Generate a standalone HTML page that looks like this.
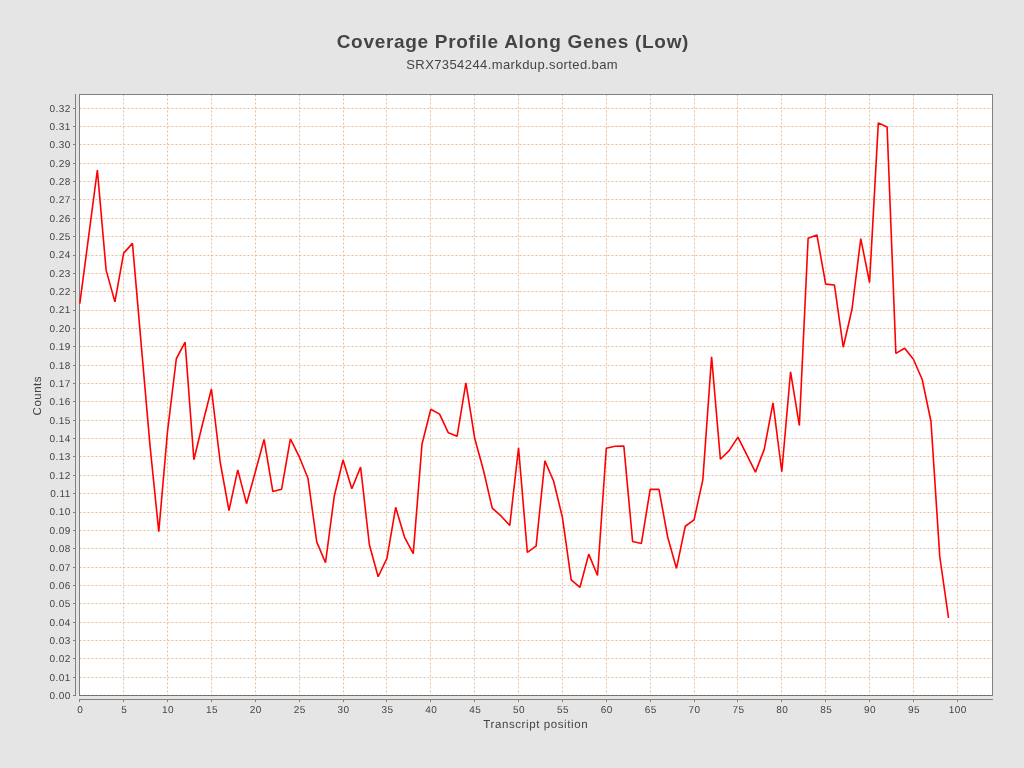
<!DOCTYPE html>
<html><head><meta charset="utf-8"><style>
html,body{margin:0;padding:0;background:#e5e5e5;width:1024px;height:768px;overflow:hidden;font-family:"Liberation Sans",sans-serif;}
svg{position:absolute;left:0;top:0;display:block;will-change:transform}
</style></head><body>
<svg width="1024" height="768" viewBox="0 0 1024 768">
<rect x="79" y="94" width="914" height="602" fill="#fff"/>
<path d="M79.5 695.5H992M79.5 677.5H992M79.5 658.5H992M79.5 640.5H992M79.5 622.5H992M79.5 603.5H992M79.5 585.5H992M79.5 567.5H992M79.5 548.5H992M79.5 530.5H992M79.5 512.5H992M79.5 493.5H992M79.5 475.5H992M79.5 456.5H992M79.5 438.5H992M79.5 420.5H992M79.5 401.5H992M79.5 383.5H992M79.5 365.5H992M79.5 346.5H992M79.5 328.5H992M79.5 310.5H992M79.5 291.5H992M79.5 273.5H992M79.5 255.5H992M79.5 236.5H992M79.5 218.5H992M79.5 199.5H992M79.5 181.5H992M79.5 163.5H992M79.5 144.5H992M79.5 126.5H992M79.5 108.5H992M79.5 94.5V695M123.5 94.5V695M167.5 94.5V695M211.5 94.5V695M255.5 94.5V695M299.5 94.5V695M343.5 94.5V695M386.5 94.5V695M430.5 94.5V695M474.5 94.5V695M518.5 94.5V695M562.5 94.5V695M606.5 94.5V695M650.5 94.5V695M694.5 94.5V695M737.5 94.5V695M781.5 94.5V695M825.5 94.5V695M869.5 94.5V695M913.5 94.5V695M957.5 94.5V695" stroke="#e9be9a" stroke-width="1" stroke-dasharray="2 2" fill="none"/>
<rect x="79.5" y="94.5" width="913" height="601" fill="none" stroke="#808080" stroke-width="1"/>
<path d="M79.5 695.5H992" stroke="#7c6250" stroke-width="1" stroke-dasharray="2 2" fill="none"/>
<path d="M75.5 94V696M79 699.5H993M73 695.5H75M73 677.5H75M73 658.5H75M73 640.5H75M73 622.5H75M73 603.5H75M73 585.5H75M73 567.5H75M73 548.5H75M73 530.5H75M73 512.5H75M73 493.5H75M73 475.5H75M73 456.5H75M73 438.5H75M73 420.5H75M73 401.5H75M73 383.5H75M73 365.5H75M73 346.5H75M73 328.5H75M73 310.5H75M73 291.5H75M73 273.5H75M73 255.5H75M73 236.5H75M73 218.5H75M73 199.5H75M73 181.5H75M73 163.5H75M73 144.5H75M73 126.5H75M73 108.5H75M79.5 700V702M123.5 700V702M167.5 700V702M211.5 700V702M255.5 700V702M299.5 700V702M343.5 700V702M386.5 700V702M430.5 700V702M474.5 700V702M518.5 700V702M562.5 700V702M606.5 700V702M650.5 700V702M694.5 700V702M737.5 700V702M781.5 700V702M825.5 700V702M869.5 700V702M913.5 700V702M957.5 700V702" stroke="#808080" stroke-width="1" fill="none" shape-rendering="crispEdges"/>
<polyline points="79.80,303.72 88.58,236.95 97.35,169.99 106.12,270.15 114.90,301.89 123.67,253.09 132.45,243.37 141.22,344.63 150.00,445.52 158.78,531.79 167.55,431.03 176.32,358.75 185.10,342.24 193.88,459.81 202.65,423.51 211.43,389.02 220.20,462.25 228.98,510.54 237.75,469.92 246.52,503.67 255.30,471.94 264.07,439.47 272.85,491.57 281.62,489.18 290.40,438.92 299.18,456.53 307.95,478.21 316.73,541.83 325.50,562.74 334.28,496.05 343.05,460.01 351.83,488.81 360.60,467.17 369.38,544.76 378.15,576.76 386.93,558.34 395.70,507.34 404.48,537.06 413.25,553.57 422.03,444.05 430.80,409.20 439.58,414.15 448.35,432.86 457.12,436.17 465.90,382.97 474.68,438.18 483.45,470.25 492.23,508.07 501.00,515.96 509.78,525.42 518.55,447.72 527.33,552.47 536.10,546.05 544.88,460.93 553.65,481.29 562.42,517.43 571.20,579.98 579.98,587.32 588.75,554.12 597.52,575.48 606.30,448.27 615.07,446.26 623.85,446.07 632.62,541.46 641.40,543.48 650.17,489.36 658.95,489.36 667.73,537.24 676.50,568.43 685.27,526.24 694.05,519.81 702.82,479.82 711.60,356.92 720.38,459.28 729.15,450.66 737.92,437.08 746.70,454.69 755.48,472.12 764.25,449.37 773.02,402.96 781.80,471.75 790.57,371.78 799.35,425.53 808.12,238.23 816.90,234.93 825.67,284.09 834.45,285.01 843.23,347.23 852.00,309.23 860.77,238.60 869.55,282.53 878.32,122.85 887.10,127.07 895.88,353.43 904.65,348.30 913.42,359.30 922.20,379.48 930.98,421.49 939.75,556.50 948.52,617.77" fill="none" stroke="#ff0000" stroke-width="1.6" stroke-linejoin="bevel"/>
<g font-family="Liberation Sans, sans-serif" font-size="10" fill="#444444" text-rendering="geometricPrecision"><text x="70.9" y="699" text-anchor="end" letter-spacing="0.5">0.00</text><text x="70.9" y="681" text-anchor="end" letter-spacing="0.5">0.01</text><text x="70.9" y="662" text-anchor="end" letter-spacing="0.5">0.02</text><text x="70.9" y="644" text-anchor="end" letter-spacing="0.5">0.03</text><text x="70.9" y="626" text-anchor="end" letter-spacing="0.5">0.04</text><text x="70.9" y="607" text-anchor="end" letter-spacing="0.5">0.05</text><text x="70.9" y="589" text-anchor="end" letter-spacing="0.5">0.06</text><text x="70.9" y="571" text-anchor="end" letter-spacing="0.5">0.07</text><text x="70.9" y="552" text-anchor="end" letter-spacing="0.5">0.08</text><text x="70.9" y="534" text-anchor="end" letter-spacing="0.5">0.09</text><text x="70.9" y="515" text-anchor="end" letter-spacing="0.5">0.10</text><text x="70.9" y="497" text-anchor="end" letter-spacing="0.5">0.11</text><text x="70.9" y="479" text-anchor="end" letter-spacing="0.5">0.12</text><text x="70.9" y="460" text-anchor="end" letter-spacing="0.5">0.13</text><text x="70.9" y="442" text-anchor="end" letter-spacing="0.5">0.14</text><text x="70.9" y="424" text-anchor="end" letter-spacing="0.5">0.15</text><text x="70.9" y="405" text-anchor="end" letter-spacing="0.5">0.16</text><text x="70.9" y="387" text-anchor="end" letter-spacing="0.5">0.17</text><text x="70.9" y="369" text-anchor="end" letter-spacing="0.5">0.18</text><text x="70.9" y="350" text-anchor="end" letter-spacing="0.5">0.19</text><text x="70.9" y="332" text-anchor="end" letter-spacing="0.5">0.20</text><text x="70.9" y="313" text-anchor="end" letter-spacing="0.5">0.21</text><text x="70.9" y="295" text-anchor="end" letter-spacing="0.5">0.22</text><text x="70.9" y="277" text-anchor="end" letter-spacing="0.5">0.23</text><text x="70.9" y="258" text-anchor="end" letter-spacing="0.5">0.24</text><text x="70.9" y="240" text-anchor="end" letter-spacing="0.5">0.25</text><text x="70.9" y="222" text-anchor="end" letter-spacing="0.5">0.26</text><text x="70.9" y="203" text-anchor="end" letter-spacing="0.5">0.27</text><text x="70.9" y="185" text-anchor="end" letter-spacing="0.5">0.28</text><text x="70.9" y="167" text-anchor="end" letter-spacing="0.5">0.29</text><text x="70.9" y="148" text-anchor="end" letter-spacing="0.5">0.30</text><text x="70.9" y="130" text-anchor="end" letter-spacing="0.5">0.31</text><text x="70.9" y="112" text-anchor="end" letter-spacing="0.5">0.32</text><text x="80.35" y="713" text-anchor="middle" letter-spacing="0.5">0</text><text x="124.22" y="713" text-anchor="middle" letter-spacing="0.5">5</text><text x="168.10" y="713" text-anchor="middle" letter-spacing="0.5">10</text><text x="211.98" y="713" text-anchor="middle" letter-spacing="0.5">15</text><text x="255.85" y="713" text-anchor="middle" letter-spacing="0.5">20</text><text x="299.73" y="713" text-anchor="middle" letter-spacing="0.5">25</text><text x="343.60" y="713" text-anchor="middle" letter-spacing="0.5">30</text><text x="387.48" y="713" text-anchor="middle" letter-spacing="0.5">35</text><text x="431.35" y="713" text-anchor="middle" letter-spacing="0.5">40</text><text x="475.23" y="713" text-anchor="middle" letter-spacing="0.5">45</text><text x="519.10" y="713" text-anchor="middle" letter-spacing="0.5">50</text><text x="562.97" y="713" text-anchor="middle" letter-spacing="0.5">55</text><text x="606.85" y="713" text-anchor="middle" letter-spacing="0.5">60</text><text x="650.72" y="713" text-anchor="middle" letter-spacing="0.5">65</text><text x="694.60" y="713" text-anchor="middle" letter-spacing="0.5">70</text><text x="738.47" y="713" text-anchor="middle" letter-spacing="0.5">75</text><text x="782.35" y="713" text-anchor="middle" letter-spacing="0.5">80</text><text x="826.22" y="713" text-anchor="middle" letter-spacing="0.5">85</text><text x="870.10" y="713" text-anchor="middle" letter-spacing="0.5">90</text><text x="913.97" y="713" text-anchor="middle" letter-spacing="0.5">95</text><text x="957.85" y="713" text-anchor="middle" letter-spacing="0.5">100</text></g>
<text x="535.75" y="728" text-anchor="middle" font-family="Liberation Sans, sans-serif" font-size="11.5" letter-spacing="0.6" text-rendering="geometricPrecision" fill="#444444">Transcript position</text>
<text transform="translate(40.7 395.5) rotate(-90)" x="-0.2" y="0" text-anchor="middle" font-family="Liberation Sans, sans-serif" font-size="11.5" letter-spacing="0.5" text-rendering="geometricPrecision" fill="#444444">Counts</text>
<text x="512.9" y="48" text-anchor="middle" font-family="Liberation Sans, sans-serif" font-weight="bold" font-size="19" letter-spacing="0.7" fill="#444444">Coverage Profile Along Genes (Low)</text>
<text x="512.2" y="69" text-anchor="middle" font-family="Liberation Sans, sans-serif" font-size="13" letter-spacing="0.4" fill="#444444">SRX7354244.markdup.sorted.bam</text>
</svg>
</body></html>
